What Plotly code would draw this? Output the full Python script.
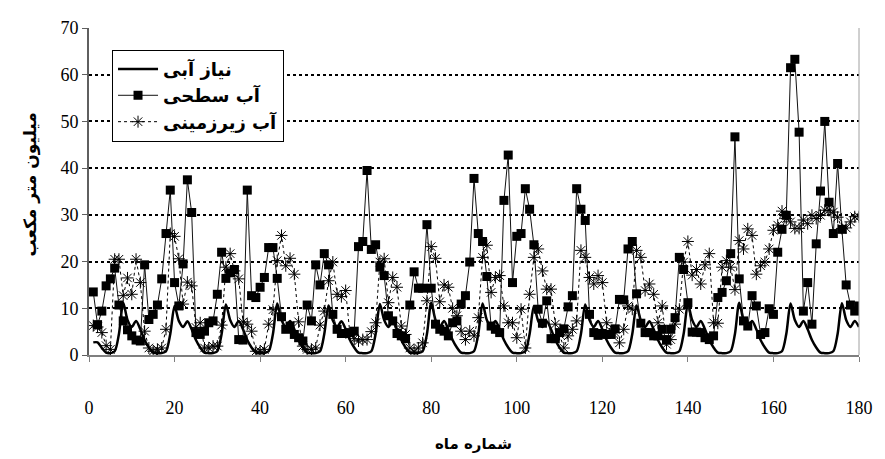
import plotly.graph_objects as go

months = list(range(1, 181))

demand = [
    2.7, 2.7, 1.5, 0.5, 0.4, 0.8, 4.5, 11.2, 7.5, 6.0, 7.3, 5.5,
    3.2, 1.6, 0.5, 0.4, 0.4, 0.8, 4.5, 10.5, 7.3, 6.0, 7.2, 5.5,
    3.2, 1.6, 0.5, 0.4, 0.4, 0.8, 4.5, 10.8, 7.5, 6.0, 7.3, 5.5,
    3.2, 1.6, 0.5, 0.4, 0.4, 0.8, 4.5, 11.0, 7.5, 6.0, 7.3, 5.5,
    3.2, 1.6, 0.5, 0.4, 0.4, 0.8, 4.5, 10.6, 7.4, 6.0, 7.2, 5.5,
    3.2, 1.6, 0.5, 0.4, 0.4, 0.8, 4.5, 10.9, 7.5, 6.0, 7.3, 5.5,
    3.2, 1.6, 0.5, 0.4, 0.4, 0.8, 4.5, 11.2, 7.5, 6.0, 7.3, 5.5,
    3.2, 1.6, 0.5, 0.4, 0.4, 0.8, 4.5, 11.0, 7.5, 6.0, 7.3, 5.5,
    3.2, 1.6, 0.5, 0.4, 0.4, 0.8, 4.5, 10.5, 7.3, 6.0, 7.2, 5.5,
    3.2, 1.6, 0.5, 0.4, 0.4, 0.8, 4.5, 10.8, 7.5, 6.0, 7.3, 5.5,
    3.2, 1.6, 0.5, 0.4, 0.4, 0.8, 4.5, 10.6, 7.4, 6.0, 7.2, 5.5,
    3.2, 1.6, 0.5, 0.4, 0.4, 0.8, 4.5, 10.9, 7.5, 6.0, 7.3, 5.5,
    3.2, 1.6, 0.5, 0.4, 0.4, 0.8, 4.5, 11.2, 7.5, 6.0, 7.3, 5.5,
    3.2, 1.6, 0.5, 0.4, 0.4, 0.8, 4.5, 11.0, 7.5, 6.0, 7.3, 5.5,
    3.2, 1.6, 0.5, 0.4, 0.4, 0.8, 4.5, 11.1, 7.5, 6.0, 7.3, 6.0,
]

surface = [
    13.5, 6.5, 9.4, 14.8, 16.3, 18.6, 10.7, 7.3, 5.4, 4.1, 3.2, 3.0,
    19.3, 7.6, 8.7, 10.7, 16.3, 26.0, 35.3, 15.5, 10.5, 19.5, 37.5, 30.5,
    4.8, 4.4, 5.1, 6.9, 7.3, 13.0, 22.0, 16.4, 17.6, 18.3, 3.3, 3.2,
    35.3, 12.7, 12.3, 14.5, 16.6, 23.0, 23.0, 16.4, 8.2, 5.5, 6.2, 4.4,
    3.7, 3.0, 10.7, 7.3, 19.3, 15.0, 21.7, 19.3, 8.7, 5.5, 4.6, 4.6,
    4.8, 5.1, 23.2, 24.3, 39.5, 22.6, 23.6, 18.8, 17.0, 8.4, 7.3, 4.6,
    4.1, 3.5, 10.7, 17.8, 14.3, 14.3, 27.9, 14.3, 6.6, 5.5, 5.1, 4.1,
    6.9, 7.3, 10.9, 12.7, 19.9, 37.8, 26.0, 24.3, 16.8, 6.2, 5.5, 4.8,
    33.1, 42.8, 15.5, 25.4, 26.0, 35.6, 31.2, 23.6, 9.8, 6.8, 11.6, 3.5,
    3.5, 4.8, 5.6, 10.3, 12.7, 35.6, 31.2, 28.8, 8.7, 4.8, 4.2, 4.6,
    4.4, 4.4, 5.6, 11.9, 11.8, 22.7, 24.3, 13.1, 6.8, 4.8, 4.8, 4.1,
    4.1, 5.5, 3.3, 5.5, 8.0, 20.9, 18.3, 11.2, 4.9, 4.9, 4.8, 3.7,
    3.3, 4.1, 12.3, 13.4, 15.9, 21.7, 46.7, 16.3, 7.3, 6.2, 12.7, 10.5,
    4.4, 4.8, 9.9, 8.7, 22.0, 26.9, 29.9, 61.5, 63.3, 47.7, 9.4, 15.5,
    6.6, 23.8, 35.1, 50.0, 32.7, 26.0, 41.0, 26.9, 15.0, 10.7, 9.4, 10.5,
]

ground = [
    6.3, 6.0, 4.8, 2.0, 1.2, 20.5, 20.5, 12.7, 16.5, 13.0, 20.5, 15.5,
    5.1, 1.5, 0.8, 1.2, 1.5, 5.5, 26.0, 25.4, 20.6, 10.9, 15.6, 14.8,
    5.9, 6.9, 1.5, 1.5, 1.9, 1.9, 6.4, 18.8, 21.7, 18.0, 16.3, 7.1,
    6.6, 5.1, 0.8, 0.8, 1.2, 6.6, 9.7, 20.2, 25.6, 19.1, 20.7, 17.3,
    7.1, 1.9, 1.2, 1.2, 1.5, 6.4, 9.4, 15.9, 19.9, 13.0, 12.5, 13.8,
    4.4, 3.5, 3.0, 3.3, 3.3, 5.0, 6.9, 19.9, 20.6, 11.2, 16.6, 14.5,
    6.2, 4.4, 1.5, 0.8, 1.5, 2.6, 11.6, 23.2, 20.7, 11.4, 15.0, 14.5,
    10.0, 8.4, 5.1, 3.3, 5.1, 4.1, 8.0, 20.9, 23.5, 13.4, 16.6, 17.0,
    10.5, 6.9, 6.9, 3.7, 9.8, 1.5, 13.0, 20.9, 22.7, 18.0, 14.1, 14.1,
    6.6, 4.4, 1.5, 4.1, 5.5, 7.3, 22.4, 20.9, 16.6, 15.2, 17.0, 15.5,
    6.9, 5.1, 4.8, 2.6, 5.5, 10.5, 9.8, 22.4, 20.9, 13.8, 15.2, 13.0,
    6.9, 10.5, 2.3, 3.3, 6.6, 9.8, 19.9, 24.3, 17.1, 18.3, 15.2, 19.3,
    21.7, 6.9, 6.8, 18.8, 20.2, 18.8, 14.0, 24.5, 22.7, 27.0, 25.6, 17.3,
    19.1, 19.9, 22.7, 26.7, 27.8, 30.8, 29.2, 28.5, 27.1, 27.1, 28.9, 28.1,
    29.9, 29.2, 29.9, 31.0, 31.0, 30.6, 29.5, 27.1, 27.2, 28.5, 29.6, 29.6,
]

names = ["نیاز آبی", "آب سطحی", "آب زیرزمینی"]
x_ticks = [0, 20, 40, 60, 80, 100, 120, 140, 160, 180]
y_ticks = [0, 10, 20, 30, 40, 50, 60, 70]
y_title = "میلیون متر مکعب"
x_title = "شماره ماه"

fig = go.Figure()
fig.add_trace(go.Scatter(
    x=months, y=demand, name=f"<b>{names[0]}</b>", mode="lines",
    line=dict(color="black", width=2.5, shape="spline", smoothing=0.8),
))
fig.add_trace(go.Scatter(
    x=months, y=surface, name=f"<b>{names[1]}</b>", mode="lines+markers",
    line=dict(color="#111111", width=1),
    marker=dict(symbol="square", size=9, color="black"),
))
fig.add_trace(go.Scatter(
    x=months, y=ground, name=f"<b>{names[2]}</b>", mode="lines+markers",
    line=dict(color="black", width=1, dash="dot"),
    marker=dict(symbol="asterisk-open", size=10, color="black",
                line=dict(color="black", width=1)),
))

L, R, T, B = 88.7, 868.0, 28.3, 355.5
W, H = 885, 459
pw, ph = R - L, B - T

tickfont = dict(family="Liberation Serif, Times New Roman, serif", size=18, color="black")

fig.update_xaxes(
    range=[0, 180], tickvals=x_ticks, showgrid=False, zeroline=False,
    showline=True, linecolor="#7f7f7f", linewidth=2,
    ticks="outside", ticklen=5, tickcolor="#7f7f7f", tickwidth=1,
    tickfont=tickfont, ticklabelstandoff=30,
)
fig.update_yaxes(
    range=[0, 70], tickvals=y_ticks, showgrid=True, gridcolor="black",
    gridwidth=1.5, griddash="dot", zeroline=False,
    showline=True, linecolor="#5f5f5f", linewidth=2,
    ticks="outside", ticklen=5, tickcolor="#5f5f5f", tickwidth=1,
    tickfont=tickfont,
)

fig.add_shape(type="line", xref="x domain", yref="y domain",
              x0=1, x1=1, y0=0, y1=1, line=dict(color="#a0a0a0", width=1))

fig.add_annotation(text=f"<b>{y_title}</b>", xref="paper", yref="paper",
                   x=(30 - L) / pw, y=(B - 185) / ph, showarrow=False,
                   xanchor="center", yanchor="middle",
                   textangle=-90, font=dict(family="DejaVu Sans", size=17, color="black"))
fig.add_annotation(text=f"<b>{x_title}</b>", xref="paper", yref="paper",
                   x=(478 - L) / pw, y=(B - 445) / ph, showarrow=False,
                   xanchor="center", yanchor="middle",
                   font=dict(family="DejaVu Sans", size=15, color="black"))

fig.update_layout(
    width=W, height=H,
    margin=dict(l=L, r=W - R, t=T, b=H - B),
    plot_bgcolor="white", paper_bgcolor="white",
    showlegend=True,
    legend=dict(
        x=(112 - L) / pw, y=(B - 50) / ph, xanchor="left", yanchor="top",
        bgcolor="white", bordercolor="black", borderwidth=1,
        font=dict(family="DejaVu Sans", size=18, color="black"),
        itemwidth=40, tracegroupgap=3,
    ),
)

fig.write_html("out.html")
